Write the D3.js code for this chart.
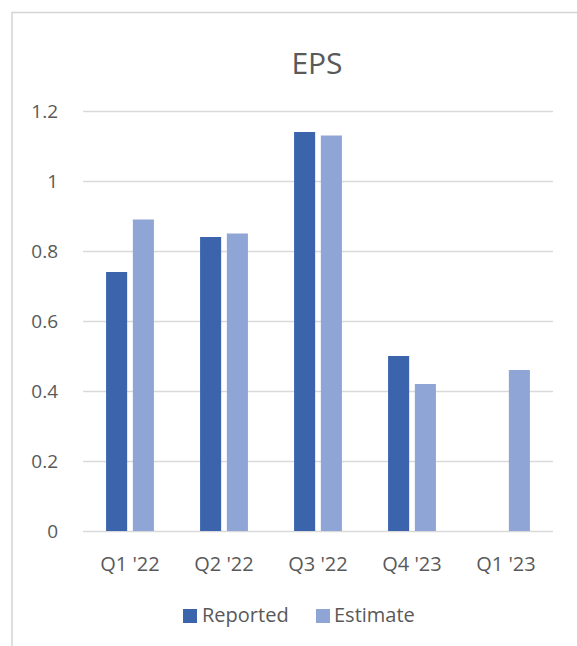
<!DOCTYPE html>
<html>
<head>
<meta charset="utf-8">
<script src="https://cdn.jsdelivr.net/npm/d3@7"></script>
<style>
  html, body { margin: 0; padding: 0; background: #fff; }
  svg { display: block; }
  text { font-family: "Open Sans", "Noto Sans", sans-serif; fill: #595959; }
</style>
</head>
<body>
<svg id="chart" width="577" height="646"></svg>
<script>
// EPS per quarter: reported vs. consensus estimate
const quarters = ["Q1 '22", "Q2 '22", "Q3 '22", "Q4 '23", "Q1 '23"];
const reported = [0.74, 0.84, 1.14, 0.50, null];
const estimate = [0.89, 0.85, 1.13, 0.42, 0.46];
const seriesNames = ["Reported", "Estimate"];
const yTicks = [0, 0.2, 0.4, 0.6, 0.8, 1, 1.2];

const colors = { Reported: "#3B64AD", Estimate: "#8FA5D6" };

const svg = d3.select("#chart");

// chart area frame (runs off the right and bottom edges)
svg.append("path")
  .attr("d", "M12,646 V12.5 H577")
  .attr("fill", "none")
  .attr("stroke", "#d4d4d4")
  .attr("stroke-width", 1.5);

const plot = { left: 83, right: 553, top: 111, bottom: 531 };

const x = d3.scaleBand()
  .domain(quarters)
  .range([plot.left, plot.right])
  .padding(0);

const y = d3.scaleLinear()
  .domain([0, 1.2])
  .range([plot.bottom, plot.top]);

// Excel-like layout: gap width 219%, series overlap -27%
const gapWidth = 2.19, overlap = -0.27;
const barW = x.bandwidth() / (2 + (-overlap) + gapWidth);
const groupW = 2 * barW + (-overlap) * barW;
const groupOffset = (x.bandwidth() - groupW) / 2;

// gridlines
svg.append("g")
  .selectAll("line")
  .data(yTicks)
  .join("line")
  .attr("x1", plot.left)
  .attr("x2", plot.right)
  .attr("y1", d => Math.round(y(d)) + 0.5)
  .attr("y2", d => Math.round(y(d)) + 0.5)
  .attr("stroke", "#d9d9d9")
  .attr("stroke-width", 1.5);

// y-axis labels
svg.append("g")
  .selectAll("text")
  .data(yTicks)
  .join("text")
  .attr("x", 58)
  .attr("y", d => y(d))
  .attr("dy", "0.35em")
  .attr("text-anchor", "end")
  .attr("font-size", 19)
  .text(d => d3.format("~g")(d));

// bars
const data = quarters.map((q, i) => ({ q, Reported: reported[i], Estimate: estimate[i] }));
seriesNames.forEach((s, si) => {
  svg.append("g")
    .selectAll("rect")
    .data(data.filter(d => d[s] != null))
    .join("rect")
    .attr("x", d => x(d.q) + groupOffset + si * barW * (1 - overlap))
    .attr("y", d => y(d[s]))
    .attr("width", barW)
    .attr("height", d => y(0) - y(d[s]))
    .attr("fill", colors[s]);
});

// category labels
svg.append("g")
  .selectAll("text")
  .data(quarters)
  .join("text")
  .attr("x", d => x(d) + x.bandwidth() / 2)
  .attr("y", 571)
  .attr("text-anchor", "middle")
  .attr("font-size", 20)
  .text(d => d);

// title
svg.append("text")
  .attr("x", (plot.left + plot.right) / 2 - 1)
  .attr("y", 74)
  .attr("text-anchor", "middle")
  .attr("font-size", 30)
  .text("EPS");

// legend
const legendItems = [
  { name: "Reported", sx: 183, tx: 202 },
  { name: "Estimate", sx: 316, tx: 334 }
];
const lg = svg.append("g");
lg.selectAll("rect")
  .data(legendItems)
  .join("rect")
  .attr("x", d => d.sx)
  .attr("y", 609)
  .attr("width", 14)
  .attr("height", 14)
  .attr("fill", d => colors[d.name]);
lg.selectAll("text")
  .data(legendItems)
  .join("text")
  .attr("x", d => d.tx)
  .attr("y", 622)
  .attr("font-size", 20)
  .text(d => d.name);
</script>
</body>
</html>
